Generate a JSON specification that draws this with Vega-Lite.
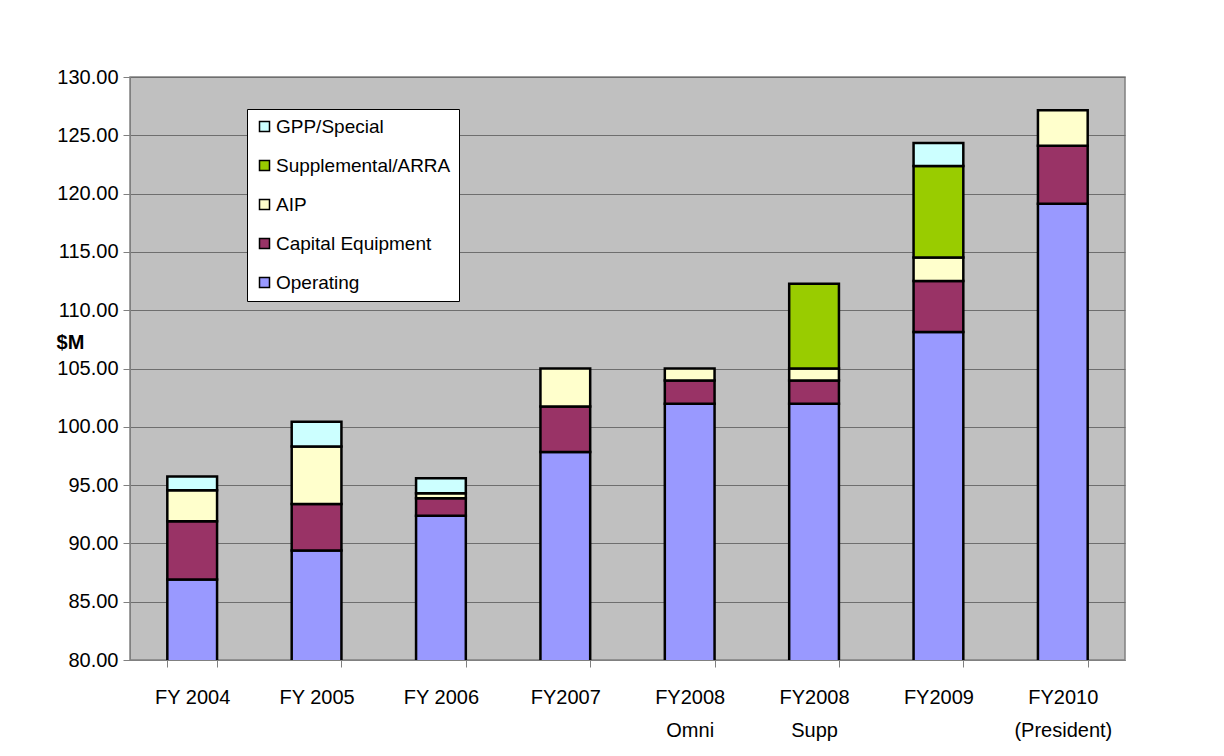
{
  "$schema": "https://vega.github.io/schema/vega-lite/v6.json",
  "width": 995,
  "height": 583,
  "autosize": {"type": "none"},
  "padding": {"left": 130, "top": 77, "right": 99, "bottom": 96},
  "background": "white",
  "config": {
    "font": "Liberation Sans",
    "view": {"fill": "#C0C0C0", "stroke": "#808080", "strokeWidth": 1.5}
  },
  "data": {
    "values": [
      {"year": "FY 2004", "series": "Operating", "rank": 1, "value": 86.90},
      {"year": "FY 2004", "series": "Capital Equipment", "rank": 2, "value": 5.00},
      {"year": "FY 2004", "series": "AIP", "rank": 3, "value": 2.66},
      {"year": "FY 2004", "series": "GPP/Special", "rank": 5, "value": 1.18},
      {"year": "FY 2005", "series": "Operating", "rank": 1, "value": 89.40},
      {"year": "FY 2005", "series": "Capital Equipment", "rank": 2, "value": 3.98},
      {"year": "FY 2005", "series": "AIP", "rank": 3, "value": 4.94},
      {"year": "FY 2005", "series": "GPP/Special", "rank": 5, "value": 2.12},
      {"year": "FY 2006", "series": "Operating", "rank": 1, "value": 92.38},
      {"year": "FY 2006", "series": "Capital Equipment", "rank": 2, "value": 1.49},
      {"year": "FY 2006", "series": "AIP", "rank": 3, "value": 0.43},
      {"year": "FY 2006", "series": "GPP/Special", "rank": 5, "value": 1.29},
      {"year": "FY2007", "series": "Operating", "rank": 1, "value": 97.83},
      {"year": "FY2007", "series": "Capital Equipment", "rank": 2, "value": 3.91},
      {"year": "FY2007", "series": "AIP", "rank": 3, "value": 3.26},
      {"year": "FY2008|Omni", "series": "Operating", "rank": 1, "value": 101.97},
      {"year": "FY2008|Omni", "series": "Capital Equipment", "rank": 2, "value": 2.01},
      {"year": "FY2008|Omni", "series": "AIP", "rank": 3, "value": 1.02},
      {"year": "FY2008|Supp", "series": "Operating", "rank": 1, "value": 101.97},
      {"year": "FY2008|Supp", "series": "Capital Equipment", "rank": 2, "value": 2.01},
      {"year": "FY2008|Supp", "series": "AIP", "rank": 3, "value": 1.02},
      {"year": "FY2008|Supp", "series": "Supplemental/ARRA", "rank": 4, "value": 7.27},
      {"year": "FY2009", "series": "Operating", "rank": 1, "value": 108.14},
      {"year": "FY2009", "series": "Capital Equipment", "rank": 2, "value": 4.36},
      {"year": "FY2009", "series": "AIP", "rank": 3, "value": 2.02},
      {"year": "FY2009", "series": "Supplemental/ARRA", "rank": 4, "value": 7.85},
      {"year": "FY2009", "series": "GPP/Special", "rank": 5, "value": 1.97},
      {"year": "FY2010|(President)", "series": "Operating", "rank": 1, "value": 119.14},
      {"year": "FY2010|(President)", "series": "Capital Equipment", "rank": 2, "value": 4.97},
      {"year": "FY2010|(President)", "series": "AIP", "rank": 3, "value": 3.04}
    ]
  },
  "mark": {"type": "bar", "clip": true, "stroke": "black", "strokeWidth": 2.5},
  "encoding": {
    "x": {
      "field": "year",
      "type": "nominal",
      "sort": null,
      "scale": {"paddingInner": 0.6, "paddingOuter": 0.3},
      "axis": {
        "title": null,
        "labelAngle": 0,
        "labelExpr": "split(datum.label, '|')",
        "labelFontSize": 20,
        "labelColor": "black",
        "labelBaseline": "top",
        "labelPadding": 20,
        "labelLineHeight": 33,
        "tickBand": "extent",
        "tickSize": 7,
        "tickColor": "#808080",
        "domainColor": "#808080",
        "grid": false
      }
    },
    "y": {
      "field": "value",
      "type": "quantitative",
      "stack": "zero",
      "scale": {"domain": [80, 130], "nice": false, "zero": false},
      "axis": {
        "values": [80, 85, 90, 95, 100, 105, 110, 115, 120, 125, 130],
        "format": ".2f",
        "labelFontSize": 20,
        "labelColor": "black",
        "labelPadding": 5,
        "tickSize": 7,
        "tickColor": "#808080",
        "domainColor": "#808080",
        "grid": true,
        "gridColor": "#6E6E6E",
        "title": "$M",
        "titleAngle": 0,
        "titleFontSize": 20,
        "titleFontWeight": "bold",
        "titleColor": "black",
        "titleAlign": "center",
        "titleBaseline": "middle",
        "titleX": -60,
        "titleY": 265
      }
    },
    "color": {
      "field": "series",
      "type": "nominal",
      "scale": {
        "domain": ["Operating", "Capital Equipment", "AIP", "Supplemental/ARRA", "GPP/Special"],
        "range": ["#9999FF", "#993366", "#FFFFCC", "#99CC00", "#CCFFFF"]
      },
      "legend": {
        "title": null,
        "orient": "none",
        "legendX": 117,
        "legendY": 32,
        "values": ["GPP/Special", "Supplemental/ARRA", "AIP", "Capital Equipment", "Operating"],
        "symbolType": "square",
        "symbolSize": 100,
        "symbolStrokeColor": "black",
        "symbolStrokeWidth": 1.5,
        "labelFontSize": 19,
        "labelColor": "black",
        "labelLimit": 400,
        "labelOffset": 2,
        "rowPadding": 19,
        "padding": 8,
        "fillColor": "white",
        "strokeColor": "black"
      }
    },
    "order": {"field": "rank", "type": "quantitative"}
  }
}
